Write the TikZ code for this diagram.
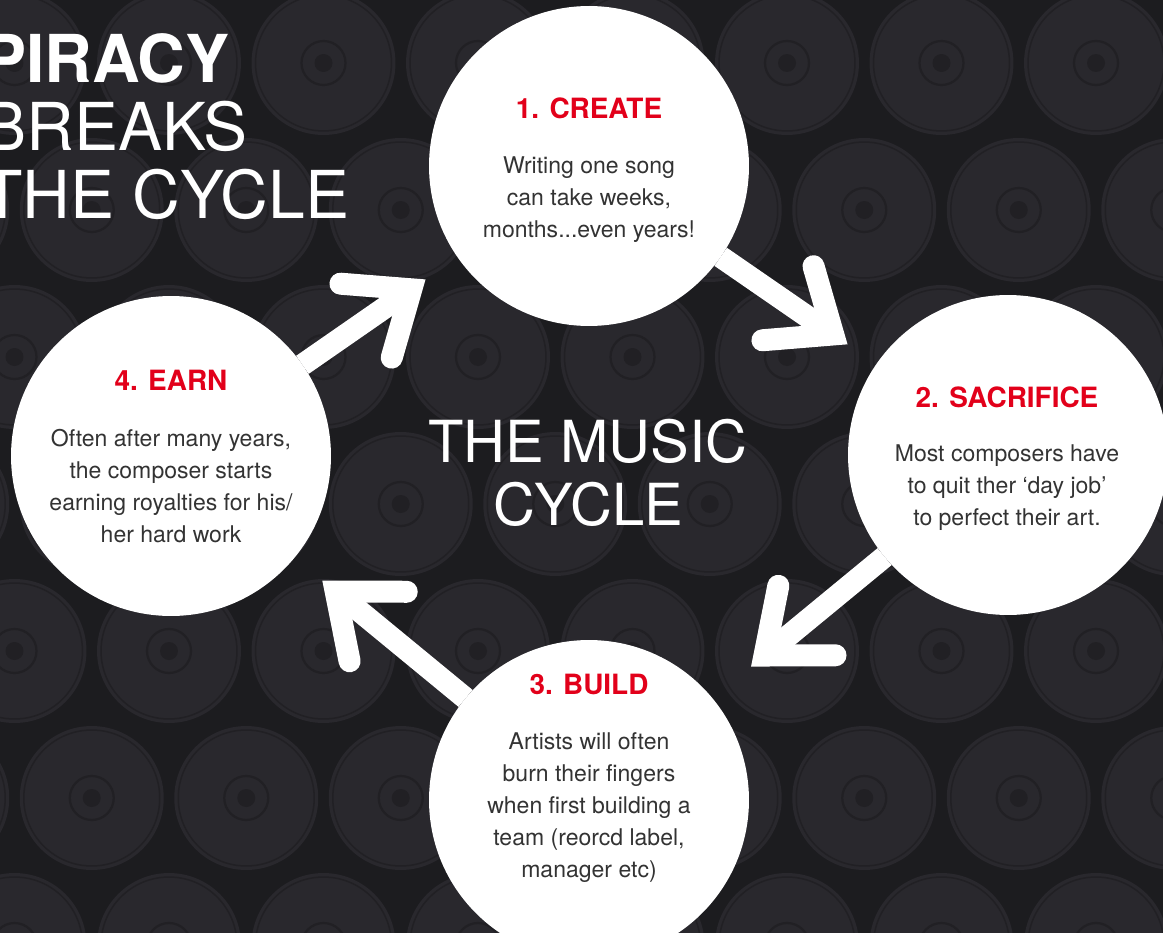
\documentclass[tikz,border=0pt]{standalone}
\usepackage{fontspec}
\setmainfont{TeX Gyre Heros}
\usetikzlibrary{arrows.meta}

\definecolor{bgdark}{HTML}{1C1C1F}
\definecolor{disc}{HTML}{29282D}
\definecolor{groove}{HTML}{212024}
\definecolor{stepred}{HTML}{E2001A}
\definecolor{bodygray}{HTML}{333333}

\tikzset{
  stage/.style={circle, fill=white, minimum size=6.4cm, inner sep=0pt, outer sep=0pt},
  stagetitle/.style={anchor=base, inner sep=0pt, text=stepred, font=\fontsize{15.9}{19}\selectfont\bfseries},
  stagetext/.style={anchor=base, inner sep=0pt, align=center, text=bodygray, font=\fontsize{13.1}{18.2}\selectfont},
  cycarrow/.style={white, line width=0.44cm, -{Straight Barb[length=1.1cm, width=1.8cm, line cap=round, line join=miter]}},
}

\begin{document}
\begin{tikzpicture}[x=0.02cm, y=-0.02cm]
\useasboundingbox (0,0) rectangle (1163,933);
\clip (0,0) rectangle (1163,933);
\fill[bgdark] (0,0) rectangle (1163,933);

% vinyl records in the background
\foreach \j in {0,...,6}{
  \foreach \i in {-1,...,8}{
    \pgfmathsetmacro\rx{14.5+154.5*\i+77.25*mod(\j,2)}
    \pgfmathsetmacro\ry{63+147*\j}
    \fill[disc] (\rx,\ry) circle (1.44cm);
    \draw[groove, line width=0.03cm] (\rx,\ry) circle (1.36cm);
    \draw[groove, line width=0.045cm] (\rx,\ry) circle (0.44cm);
    \fill[groove] (\rx,\ry) circle (0.18cm);
  }
}

% headline (base = last line)
\node[anchor=base west, align=left, inner sep=0pt, text=white, font=\fontsize{37.6}{38.7}\selectfont] (piracy) at (-18,218) {\textbf{PIRACY}\\BREAKS\\THE CYCLE};
\node[anchor=base, align=center, inner sep=0pt, text=white, font=\fontsize{33}{35.3}\selectfont] (musiccycle) at (588,525) {THE MUSIC\\CYCLE};

% the four stages
\node[stage] (create) at (589,166) {};
\node[stage] (sacrifice) at (1008,455) {};
\node[stage] (build) at (589,800) {};
\node[stage] (earn) at (171,456) {};

\draw[cycarrow, shorten >=0.7cm] (create) -- (sacrifice);
\draw[cycarrow, shorten >=1.0cm] (sacrifice) -- (build);
\draw[cycarrow, shorten >=0.72cm] (build) -- (earn);
\draw[cycarrow, shorten >=0.78cm] (earn) -- (create);

\node[stagetitle] (createtitle) at (589,118) {1. CREATE};
\node[stagetext] (createtext) at (589,237) {Writing one song\\can take weeks,\\months...even years!};

\node[stagetitle] (sacrificetitle) at (1007,407) {2. SACRIFICE};
\node[stagetext] (sacrificetext) at (1007,525) {Most composers have\\to quit ther ‘day job’\\to perfect their art.};

\node[stagetitle] (buildtitle) at (589,694) {3. BUILD};
\node[stagetext] (buildtext) at (589,877) {Artists will often\\burn their fingers\\when first building a\\team (reorcd label,\\manager etc)};

\node[stagetitle] (earntitle) at (171,390) {4. EARN};
\node[stagetext] (earntext) at (171,542) {Often after many years,\\the composer starts\\earning royalties for his/\\her hard work};

\end{tikzpicture}
\end{document}
